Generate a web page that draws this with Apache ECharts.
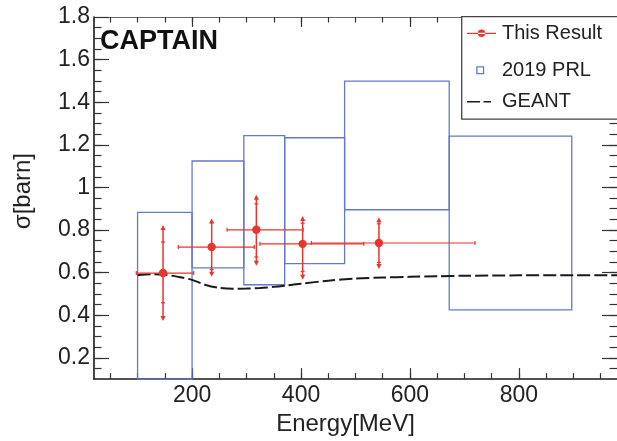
<!DOCTYPE html>
<html><head><meta charset="utf-8">
<script src="https://cdn.jsdelivr.net/npm/echarts@6/dist/echarts.min.js"></script>
<style>html,body{margin:0;padding:0;background:#fff}#c{width:617px;height:441px}</style>
</head><body><div id="c"></div>
<script>
// ---------- data ----------
const xMajorTicks = [200, 400, 600, 800];
const xMinorTicks = [50,100,150,200,250,300,350,400,450,500,550,600,650,700,750,800,850,900,950];
const yMajorTicks = [0.2, 0.4, 0.6, 0.8, 1.0, 1.2, 1.4, 1.6, 1.8];
const yMinorTicks = [0.15,0.2,0.25,0.3,0.35,0.4,0.45,0.5,0.55,0.6,0.65,0.7,0.75,0.8,0.85,0.9,0.95,1.0,1.05,1.1,1.15,1.2,1.25,1.3,1.35,1.4,1.45,1.5,1.55,1.6,1.65,1.7,1.75];

// This Result
const resE      = [146.7, 236, 318, 403, 543];
const resXS     = [0.598, 0.720, 0.801, 0.735, 0.739];
const resELow   = [97.6, 174.8, 264.3, 324.6, 419];
const resEHigh  = [203, 314.2, 403.8, 515.3, 719.4];
const resTotLow = [0.373, 0.581, 0.632, 0.567, 0.617];
const resTotHigh= [0.824, 0.854, 0.965, 0.866, 0.860];
const resStatLow= [0.458, 0.614, 0.673, 0.606, 0.648];
const resStatHigh=[0.744, 0.835, 0.923, 0.832, 0.829];

// 2019 PRL bands
const prlELow  = [100, 200, 295, 370, 480, 672];
const prlEHigh = [200, 295, 370, 480, 672, 897];
const prlLow   = [0.10, 0.622, 0.543, 0.642, 0.895, 0.425];
const prlHigh  = [0.883, 1.124, 1.243, 1.233, 1.499, 1.241];

// GEANT
const geantE  = [100, 125, 150, 175, 200, 225, 250, 275, 300, 325, 350, 375, 400, 450, 500, 550, 600, 650, 700, 800, 900, 980];
const geantXS = [0.588, 0.592, 0.590, 0.580, 0.566, 0.542, 0.528, 0.524, 0.525, 0.528, 0.533, 0.540, 0.548, 0.562, 0.572, 0.577, 0.580, 0.583, 0.585, 0.587, 0.588, 0.588];

// ---------- chart ----------
const FONT = '"Liberation Sans", Arial, Helvetica, sans-serif';
const RED = '#e8352d', BLUE = '#6479cb', INK = '#1a1a1a';
const XMIN = 20, XMAX = 980, YMIN = 0.1, YMAX = 1.8;

function xAxisDef(pos, ticks, len, opts) {
  return Object.assign({
    type: 'value', min: XMIN, max: XMAX, position: pos,
    axisLine: { show: false, onZero: false },
    splitLine: { show: false },
    axisTick: { show: true, inside: true, length: len, customValues: ticks, lineStyle: { color: '#333', width: 1.2 } },
    axisLabel: { show: false }
  }, opts || {});
}
function yAxisDef(pos, ticks, len, opts) {
  return Object.assign({
    type: 'value', min: YMIN, max: YMAX, position: pos,
    axisLine: { show: false, onZero: false },
    splitLine: { show: false },
    axisTick: { show: true, inside: true, length: len, customValues: ticks, lineStyle: { color: '#333', width: 1.2 } },
    axisLabel: { show: false }
  }, opts || {});
}

const EXT = 'M0,0L0,0 ';
const EXT2 = ' M30,10L30,10';
const ICON_RESULT = 'path://' + EXT + 'M0,4.35H29V5.65H0Z M10.8,5A3.7,3.7,0,1,0,18.2,5A3.7,3.7,0,1,0,10.8,5Z' + EXT2;
const ICON_PRL = 'path://' + EXT + 'M9.2,1.2H17.2V9.2H9.2Z M10.5,2.5V7.9H15.9V2.5Z' + EXT2;
const ICON_GEANT = 'path://' + EXT + 'M0,4.2H13V5.8H0Z M16.5,4.2H24V5.8H16.5Z' + EXT2;

function legendDef(name, icon, color, top) {
  return {
    left: 467, top: top, padding: 0, itemWidth: 30, itemHeight: 10,
    data: [{ name: name, icon: icon, itemStyle: { color: color, borderWidth: 0 } }],
    textStyle: { fontFamily: FONT, fontSize: 20, color: '#222', lineHeight: 22 }
  };
}

const option = {
  animation: false,
  backgroundColor: '#fff',
  grid: { left: 94, top: 17, width: 525, height: 364, containLabel: false },
  xAxis: [
    xAxisDef('bottom', xMajorTicks, 11, {
      axisLine: { show: true, onZero: false, lineStyle: { color: INK, width: 1.6 } },
      axisLabel: { show: true, customValues: xMajorTicks, fontFamily: FONT, fontSize: 23, color: '#222', margin: 5 },
      name: 'Energy[MeV]', nameLocation: 'middle', nameGap: 30,
      nameTextStyle: { fontFamily: FONT, fontSize: 24, color: '#222', padding: [0, 20, 0, 0] }
    }),
    xAxisDef('bottom', xMinorTicks, 6),
    xAxisDef('top', xMajorTicks, 10, { axisLine: { show: true, onZero: false, lineStyle: { color: '#666', width: 1.2 } } }),
    xAxisDef('top', xMinorTicks, 5.5)
  ],
  yAxis: [
    yAxisDef('left', yMajorTicks, 15, {
      axisLine: { show: true, onZero: false, lineStyle: { color: INK, width: 1.6 } },
      axisLabel: { show: true, customValues: yMajorTicks, fontFamily: FONT, fontSize: 23, color: '#222', margin: 4,
        formatter: v => String(Math.round(v * 10) / 10) },
      name: 'σ[barn]', nameLocation: 'middle', nameGap: 59, nameRotate: 90,
      nameTextStyle: { fontFamily: FONT, fontSize: 24, color: '#222', padding: [0, 0, 0, 14] }
    }),
    yAxisDef('left', yMinorTicks, 7.5),
    yAxisDef('right', yMajorTicks, 15),
    yAxisDef('right', yMinorTicks, 7.5)
  ],
  legend: [
    legendDef('This Result', ICON_RESULT, RED, 22.3),
    legendDef('2019 PRL', ICON_PRL, BLUE, 59),
    legendDef('GEANT', ICON_GEANT, INK, 90.7)
  ],
  graphic: [
    { type: 'rect', z: 3, shape: { x: 461.7, y: 16.7, width: 170, height: 102.5 },
      style: { fill: '#fff', stroke: '#444', lineWidth: 1.3 } },
    { type: 'text', z: 5, x: 100, y: 42,
      style: { text: 'CAPTAIN', font: 'bold 27px ' + FONT, fill: '#111', align: 'left', verticalAlign: 'middle' } }
  ],
  series: [
    {
      type: 'custom', name: '2019 PRL', xAxisIndex: 0, yAxisIndex: 0, z: 2,
      itemStyle: { color: BLUE },
      data: prlELow.map((lo, i) => [lo, prlEHigh[i], prlLow[i], prlHigh[i]]),
      encode: { x: [0, 1], y: [2, 3] },
      renderItem: function (params, api) {
        const p1 = api.coord([api.value(0), api.value(3)]);
        const p2 = api.coord([api.value(1), api.value(2)]);
        return { type: 'rect', shape: { x: p1[0], y: p1[1], width: p2[0] - p1[0], height: p2[1] - p1[1] },
          style: { fill: 'none', stroke: BLUE, lineWidth: 1.3 } };
      }
    },
    {
      type: 'line', name: 'GEANT', xAxisIndex: 0, yAxisIndex: 0, z: 3,
      data: geantE.map((e, i) => [e, geantXS[i]]),
      symbol: 'none', showSymbol: false, smooth: 0.3,
      itemStyle: { color: INK },
      lineStyle: { color: INK, width: 2, type: [13, 4] }
    },
    {
      type: 'custom', name: 'This Result', xAxisIndex: 0, yAxisIndex: 0, z: 4,
      itemStyle: { color: RED },
      data: resE.map((e, i) => [e, resXS[i], resELow[i], resEHigh[i], resTotLow[i], resTotHigh[i], resStatLow[i], resStatHigh[i]]),
      encode: { x: [0, 2, 3], y: [1, 4, 5] },
      renderItem: function (params, api) {
        const x = api.value(0), y = api.value(1);
        const c = api.coord([x, y]);
        const hl = api.coord([api.value(2), y]), hh = api.coord([api.value(3), y]);
        const tl = api.coord([x, api.value(4)]), th = api.coord([x, api.value(5)]);
        const sl = api.coord([x, api.value(6)]), sh = api.coord([x, api.value(7)]);
        const ln = (x1, y1, x2, y2, w) => ({ type: 'line', shape: { x1, y1, x2, y2 }, style: { stroke: RED, lineWidth: w } });
        return { type: 'group', children: [
          ln(hl[0], c[1], hh[0], c[1], 1.2),
          ln(hl[0], c[1] - 2, hl[0], c[1] + 2, 1.2),
          ln(hh[0], c[1] - 2, hh[0], c[1] + 2, 1.2),
          ln(c[0], th[1] + 3, c[0], tl[1] - 3, 1.5),
          ln(c[0] - 2, sh[1], c[0] + 2, sh[1], 1.2),
          ln(c[0] - 2, sl[1], c[0] + 2, sl[1], 1.2),
          { type: 'polygon', shape: { points: [[c[0], th[1]], [c[0] - 2.6, th[1] + 5], [c[0] + 2.6, th[1] + 5]] }, style: { fill: RED } },
          { type: 'polygon', shape: { points: [[c[0], tl[1]], [c[0] - 2.6, tl[1] - 5], [c[0] + 2.6, tl[1] - 5]] }, style: { fill: RED } },
          { type: 'circle', shape: { cx: c[0], cy: c[1], r: 4.2 }, style: { fill: RED } }
        ] };
      }
    }
  ]
};

const chart = echarts.init(document.getElementById('c'), null, { renderer: 'canvas' });
chart.setOption(option);
</script>
</body></html>
